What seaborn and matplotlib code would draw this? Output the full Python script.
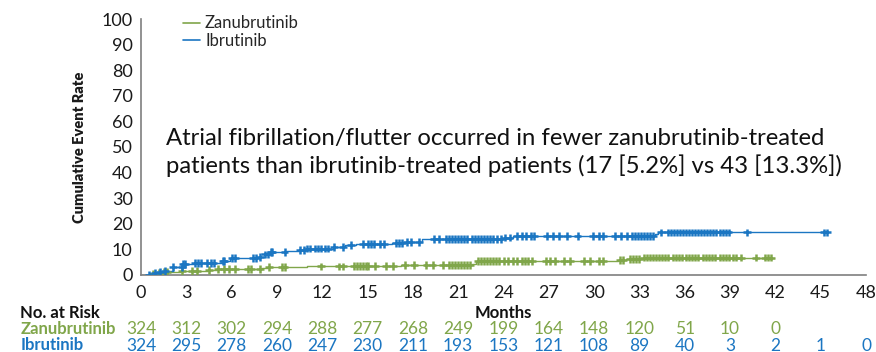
import numpy as np
import pandas as pd
import matplotlib
matplotlib.use("Agg")
import matplotlib.pyplot as plt
from matplotlib.lines import Line2D
import seaborn as sns

# Kaplan-Meier style cumulative event curves (step points: month, cumulative %)
zanu_t = [0, 0.6, 1.0, 1.5, 2.6, 4.5, 5.0, 8.0, 8.5, 11.0, 13.9, 17.2, 21.9, 22.2, 31.6, 32.1, 33.1]
zanu_v = [0, 0.4, 0.9, 1.3, 1.6, 2.0, 2.3, 2.7, 3.1, 3.3, 3.6, 3.9, 4.3, 5.4, 5.8, 6.2, 6.8]
zanu_end = 41.9

ibru_t = [0, 0.6, 1.0, 1.6, 2.1, 2.8, 3.6, 5.4, 5.9, 7.9, 8.2, 8.6, 9.6, 10.5, 11.0,
          12.8, 13.5, 14.2, 16.6, 17.4, 18.6, 24.1, 24.6, 34.0, 34.2]
ibru_v = [0, 0.6, 1.1, 1.6, 3.0, 4.4, 4.8, 5.5, 6.5, 7.0, 8.0, 9.0, 9.5, 9.8, 10.3,
          11.0, 11.6, 12.1, 12.5, 12.9, 13.9, 14.6, 15.3, 16.0, 16.6]
ibru_end = 45.4

# Censoring times (months)
zanu_cens = [0.8, 1.2, 1.5, 1.7, 2.7, 3.4, 3.7, 4.5, 5.1, 5.5, 5.8, 6.2, 7.1, 7.3, 7.9,
             8.5, 9.3, 9.5, 11.9, 13.1, 13.4, 14.1, 14.3, 14.5, 14.7, 14.9, 15.0, 15.5,
             16.2, 16.7, 17.5, 18.1, 18.9, 19.3, 20.0, 20.4, 20.6, 20.8, 21.0, 21.2, 21.4,
             21.6, 21.8, 22.3, 22.5, 22.7, 22.9, 23.1, 23.3, 23.5, 23.7, 24.0, 24.3, 24.6,
             24.9, 25.2, 25.4, 25.6, 25.9, 26.8, 27.1, 27.4, 28.0, 28.4, 29.3, 29.7, 30.3,
             30.6, 31.7, 31.9, 32.4, 32.6, 32.8, 33.0, 33.3, 33.5, 33.7, 33.9, 34.1, 34.3,
             34.5, 34.7, 34.9, 35.2, 35.4, 35.6, 35.8, 36.1, 36.3, 36.5, 36.7, 36.9, 37.2,
             37.4, 37.6, 37.8, 38.0, 38.3, 38.5, 38.7, 38.9, 39.2, 39.4, 39.7, 40.7, 41.3,
             41.5, 41.7]
ibru_cens = [0.5, 0.9, 1.25, 1.6, 2.1, 2.7, 2.8, 2.9, 3.6, 3.8, 4.0, 4.4, 4.6, 4.8, 5.4,
             5.5, 6.0, 6.2, 7.4, 7.6, 7.9, 8.2, 8.4, 8.6, 8.7, 9.5, 10.5, 10.8, 11.0, 11.2,
             11.5, 11.7, 11.9, 12.2, 12.4, 12.8, 13.4, 13.9, 14.7, 15.0, 15.2, 15.4, 15.8,
             16.1, 16.9, 17.1, 17.3, 17.6, 17.9, 18.4, 19.4, 19.7, 20.2, 20.4, 20.6, 20.8,
             21.0, 21.2, 21.4, 21.6, 21.9, 22.1, 22.3, 22.5, 22.7, 22.9, 23.1, 23.3, 23.6,
             23.8, 24.1, 24.4, 24.9, 25.2, 25.5, 25.8, 26.0, 26.9, 27.3, 27.7, 28.2, 28.9,
             29.9, 30.3, 30.6, 31.4, 31.8, 32.2, 32.5, 32.7, 32.9, 33.1, 33.3, 33.5, 33.7,
             33.9, 34.4, 34.9, 35.1, 35.3, 35.5, 35.7, 35.9, 36.1, 36.3, 36.5, 36.7, 36.9,
             37.1, 37.3, 37.5, 37.7, 37.9, 38.1, 38.3, 38.5, 38.7, 38.9, 40.1, 45.2, 45.4]

# Number at risk table
risk_months = [0, 3, 6, 9, 12, 15, 18, 21, 24, 27, 30, 33, 36, 39, 42, 45, 48]
zanu_risk = [324, 312, 302, 294, 288, 277, 268, 249, 199, 164, 148, 120, 51, 10, 0]
ibru_risk = [324, 295, 278, 260, 247, 230, 211, 193, 153, 121, 108, 89, 40, 3, 2, 1, 0]

arm_names = ["Zanubrutinib", "Ibrutinib"]
GREEN = "#80a64a"
BLUE = "#1b76c2"

sns.set_theme(style="white")
plt.rcParams["font.family"] = ["Lato", "DejaVu Sans"]


def step_frame(t, v, end, arm):
    t = list(t) + [end]
    v = list(v) + [v[-1]]
    return pd.DataFrame({"Months": t, "Rate": v, "Arm": arm})


def censor_frame(t, v, cens, arm):
    idx = np.searchsorted(np.asarray(t), np.asarray(cens), side="right") - 1
    return pd.DataFrame({"Months": cens, "Rate": np.asarray(v)[idx], "Arm": arm})


curves = pd.concat([step_frame(zanu_t, zanu_v, zanu_end, arm_names[0]),
                    step_frame(ibru_t, ibru_v, ibru_end, arm_names[1])])
marks = pd.concat([censor_frame(zanu_t, zanu_v, zanu_cens, arm_names[0]),
                   censor_frame(ibru_t, ibru_v, ibru_cens, arm_names[1])])
palette = {arm_names[0]: GREEN, arm_names[1]: BLUE}

fig = plt.figure(figsize=(8.76, 3.52), dpi=100)
ax = fig.add_axes([0.161, 0.219, 0.8276, 0.727])

sns.lineplot(data=curves, x="Months", y="Rate", hue="Arm", palette=palette,
             drawstyle="steps-post", linewidth=1.0, ax=ax, legend=False,
             estimator=None, sort=False)
sns.scatterplot(data=marks, x="Months", y="Rate", hue="Arm", palette=palette,
                marker="+", s=32, linewidth=1.8, ax=ax, legend=False, zorder=3)

ax.set_xlim(0, 48)
ax.set_ylim(0, 100)
ax.set_xticks(np.arange(0, 49, 3))
ax.set_yticks(np.arange(0, 101, 10))
ax.tick_params(axis="both", which="both", direction="out", length=5, width=1.0,
               color="#7f7f7f", labelsize=13, pad=1, labelcolor="#1a1a1a")
ax.tick_params(axis="x", pad=2.5)
for side in ("top", "right"):
    ax.spines[side].set_visible(False)
for side in ("left", "bottom"):
    ax.spines[side].set_color("#7f7f7f")
    ax.spines[side].set_linewidth(1.2)
ax.set_xlabel("")
ax.set_ylabel("Cumulative Event Rate", fontsize=10.5, fontweight="heavy",
              color="#1a1a1a", labelpad=11)

# Legend
handles = [Line2D([0], [0], color=GREEN, lw=1.2), Line2D([0], [0], color=BLUE, lw=1.2)]
ax.legend(handles, arm_names, loc="upper left", bbox_to_anchor=(0.048, 1.04),
          frameon=False, fontsize=12, handlelength=1.05, handletextpad=0.3,
          labelspacing=0.1, borderaxespad=0)

ax.text(0.035, 0.478,
        "Atrial fibrillation/flutter occurred in fewer zanubrutinib-treated\n"
        "patients than ibrutinib-treated patients (17 [5.2%] vs 43 [13.3%])",
        transform=ax.transAxes, fontsize=17.2, color="#111111", va="center",
        ha="left", linespacing=1.26)

# Number at risk table below the axis
trans = ax.get_xaxis_transform()
ax.text(24, -0.15, "Months", transform=trans, ha="center", va="center",
        fontsize=12, fontweight="bold", color="#111111")
fig.text(0.023, 1 - 313 / 352, "No. at Risk", ha="left", va="center",
         fontsize=12, fontweight="bold", color="#111111")
fig.text(0.023, 1 - 329 / 352, arm_names[0], ha="left", va="center",
         fontsize=12, fontweight="bold", color=GREEN)
fig.text(0.023, 1 - 345.5 / 352, arm_names[1], ha="left", va="center",
         fontsize=12, fontweight="bold", color=BLUE)
for m, n in zip(risk_months, zanu_risk):
    ax.text(m, -0.21, str(n), transform=trans, ha="center", va="center",
            fontsize=12.5, color=GREEN, clip_on=False)
for m, n in zip(risk_months, ibru_risk):
    ax.text(m, -0.276, str(n), transform=trans, ha="center", va="center",
            fontsize=12.5, color=BLUE, clip_on=False)

fig.savefig("out.png", dpi=100, facecolor="white")
